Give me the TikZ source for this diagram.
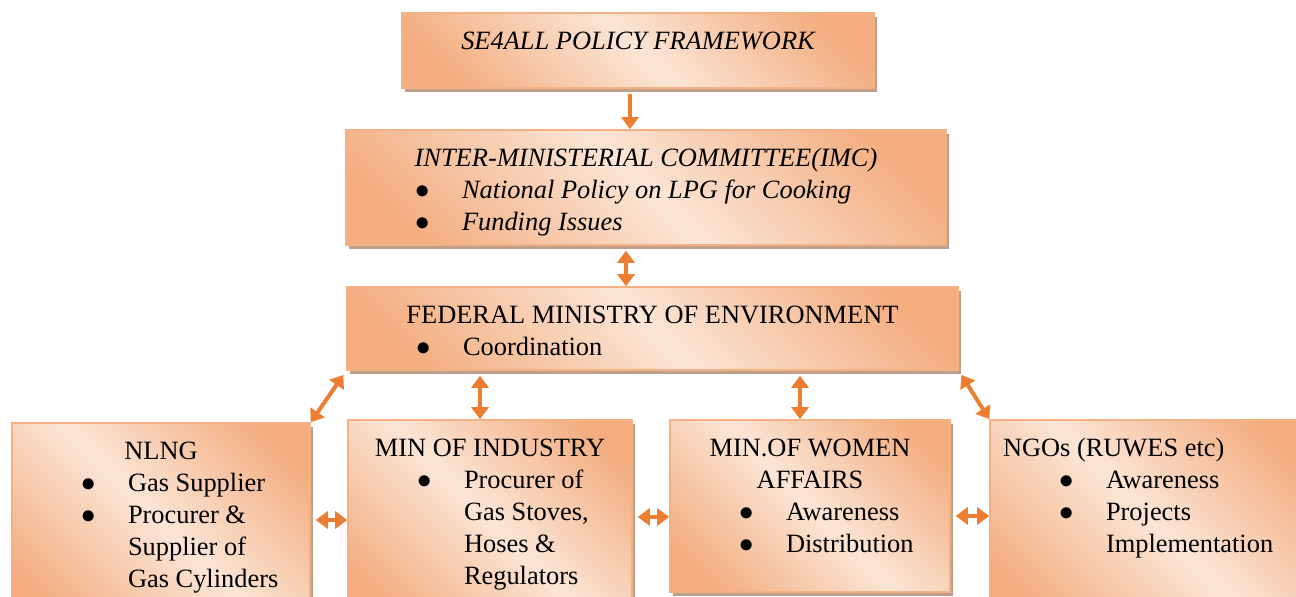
\documentclass[tikz,border=0pt]{standalone}
\usepackage{fontspec}
\setmainfont{Liberation Serif}
\usetikzlibrary{arrows.meta,shadows}

\definecolor{orgdark}{HTML}{F3AD7F}
\definecolor{orglight}{HTML}{FBE5D6}
\definecolor{orgedge}{HTML}{F4B183}
\definecolor{orgshade}{HTML}{BF9F8A}
\definecolor{orgarrow}{HTML}{ED7D31}
\pgfdeclarehorizontalshading{orgfade}{100bp}{color(0bp)=(orgdark); color(22bp)=(orgdark); color(50bp)=(orglight); color(78bp)=(orgdark); color(100bp)=(orgdark)}

% bullet line: dot, then the (possibly multi-line) text
\newcommand{\itm}[1]{\hspace*{34.5pt}\makebox[23.5pt][l]{\fontsize{15}{16}\selectfont$\bullet$}\begin{tabular}[t]{@{}l@{}}#1\end{tabular}\par}

\begin{document}
\begin{tikzpicture}[x=0.5pt,y=-0.5pt,
  orgbox/.style 2 args={draw=orgedge,line width=0.8pt,shade,shading=orgfade,shading angle=45,
    drop shadow={shadow xshift=1.5pt,shadow yshift=-2pt,fill=orgshade,opacity=1},
    inner sep=0pt,font=\fontsize{13.2}{16}\selectfont,
    execute at begin node={\begin{minipage}[c][#2][t]{#1}\vspace{7.3pt}},
    execute at end node={\end{minipage}}},
  tip/.tip={Triangle[width=8.5pt,length=6pt]},
  feed/.style={draw=orgarrow,line width=2pt,-tip,shorten <=2.5pt},
  link/.style={draw=orgarrow,line width=2pt,tip-tip,shorten <=2.5pt}]
  \useasboundingbox (0,0) rectangle (1296,597);
  \clip (0,0) rectangle (1296,597);

  \node[orgbox={236pt}{37.5pt}] (se) at (638,50.5)
    {{\centering\itshape\strut SE4ALL POLICY FRAMEWORK\par}};
  \node[orgbox={300pt}{57.5pt}] (imc) at (646,187.5)
    {\itshape{\centering\strut INTER-MINISTERIAL COMMITTEE(IMC)\par}%
     \itm{National Policy on LPG for Cooking}\itm{Funding Issues}};
  \node[orgbox={305.5pt}{41.5pt}] (fme) at (652.5,328.5)
    {{\centering\strut FEDERAL MINISTRY OF ENVIRONMENT\par}\itm{Coordination}};

  \node[orgbox={149pt}{100pt}] (nlng) at (161,523)
    {{\centering\strut NLNG\par}\itm{Gas Supplier}\itm{Procurer \&\\Supplier of\\Gas Cylinders}};
  \node[orgbox={142pt}{100pt}] (ind) at (490,520)
    {{\centering\strut MIN OF INDUSTRY\par}\itm{Procurer of\\Gas Stoves,\\Hoses \&\\Regulators}};
  \node[orgbox={140pt}{86pt}] (wom) at (810,506)
    {{\centering\strut MIN.OF WOMEN\\AFFAIRS\par}\itm{Awareness}\itm{Distribution}};
  \node[orgbox={160pt}{100pt}] (ngo) at (1150,520)
    {\hspace*{6.5pt}\strut NGOs (RUWES etc)\par\itm{Awareness}\itm{Projects\\Implementation}};

  \draw[feed] ([xshift=-4pt]se.south) -- ([xshift=-4pt]se.south |- imc.north);
  \draw[link] ([xshift=-10pt]imc.south) -- ([xshift=-10pt]imc.south |- fme.north);
  \draw[link] (fme.south west) -- (nlng.north east);
  \draw[link] ([xshift=-5pt]ind.north |- fme.south) -- ([xshift=-5pt]ind.north);
  \draw[link] ([xshift=-5pt]wom.north |- fme.south) -- ([xshift=-5pt]wom.north);
  \draw[link] (fme.south east) -- (ngo.north west);
  \draw[link] ([yshift=1.5pt]nlng.east) -- ([yshift=1.5pt]nlng.east -| ind.west);
  \draw[link] ([yshift=1.5pt]ind.east) -- ([yshift=1.5pt]ind.east -| wom.west);
  \draw[link] ([yshift=-5pt]wom.east) -- ([yshift=-5pt]wom.east -| ngo.west);
\end{tikzpicture}
\end{document}
